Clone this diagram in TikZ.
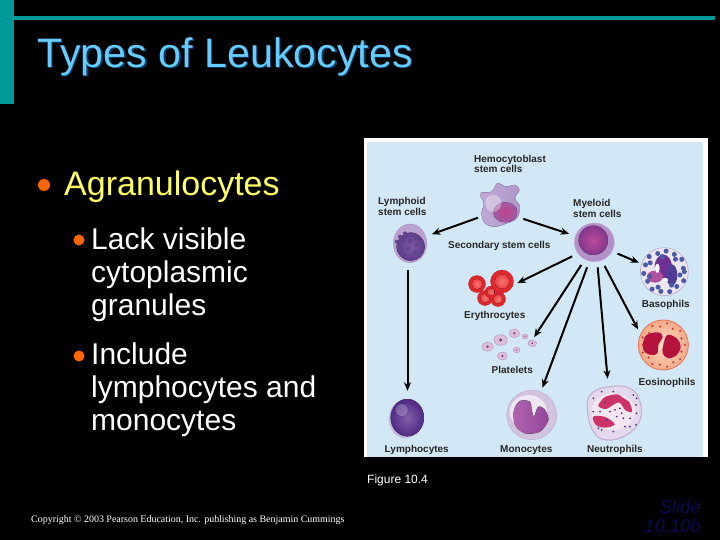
\documentclass[tikz,border=0pt]{standalone}
\usepackage{fontspec}
\setmainfont{Liberation Sans}
\newfontfamily\serifcopy{Liberation Serif}
\usetikzlibrary{arrows.meta,shapes.geometric}
\definecolor{teal1}{HTML}{009999}
\definecolor{titleblue}{HTML}{66CCFF}
\definecolor{titleshadow}{HTML}{0F3A5F}
\definecolor{bodyyellow}{HTML}{FFFF66}
\definecolor{bulorange}{HTML}{FF6600}
\definecolor{panelblue}{HTML}{D3E8F6}
\definecolor{slidenavy}{HTML}{0A0A50}
\tikzset{
  x=1pt,y=-1pt,
  arr/.style={line width=2pt,draw=black,-{Stealth[length=8.5pt,width=7pt]}},
  lab/.style={anchor=base west,inner sep=0,font=\fontsize{10}{10.5}\selectfont\bfseries,text=black!85},
  lab2/.style={anchor=north west,inner sep=0,align=left,font=\fontsize{10}{10.5}\selectfont\bfseries,text=black!85},
  bodytxt/.style={anchor=north west,inner sep=0,align=left,text=white,font=\fontsize{30}{33}\selectfont},
  bul/.style={circle,fill=bulorange,inner sep=0},
  anch/.style={circle,inner sep=0},
}
\begin{document}
\begin{tikzpicture}
\useasboundingbox (0,0) rectangle (720,540);
\fill[black] (0,0) rectangle (720,540);
% theme bars
\fill[teal1] (0,0) rectangle (14,104);
\fill[teal1] (14,16) rectangle (715,20);
% title
\node[anchor=base west,inner sep=0,text=titleshadow,font=\fontsize{41.2}{41.2}\selectfont] at (38.5,69) {Types of Leukocytes};
\node[anchor=base west,inner sep=0,text=titleblue,font=\fontsize{41.2}{41.2}\selectfont] (title) at (37,67.5) {Types of Leukocytes};
% body
\node[bul,minimum size=12pt] (b1) at (44,185) {};
\node[anchor=base west,inner sep=0,text=bodyyellow,font=\fontsize{34}{34}\selectfont] (agr) at (64,196) {Agranulocytes};
\node[bul,minimum size=11pt] (b2) at (79,240) {};
\node[bodytxt] (t1) at (91,227.5) {Lack visible\\cytoplasmic\\granules};
\node[bul,minimum size=11pt] (b3) at (79,356) {};
\node[bodytxt] (t2) at (91,342.5) {Include\\lymphocytes and\\monocytes};
% panel
\fill[white] (364,138) rectangle (708,457);
\fill[panelblue] (367,142) rectangle (703,457);
% ---- anchor nodes
\node[anch,minimum size=52pt] (hemo) at (501,205) {};
\node[ellipse,inner sep=0,minimum width=33pt,minimum height=38pt] (lymph) at (407.5,243) {};
\node[anch,minimum size=42pt] (myel) at (594,242) {};
\node[anch,minimum size=48pt] (baso) at (664,272) {};
\node[anch,minimum size=50pt] (eos) at (663,345) {};
\node[anch,minimum size=56pt] (neut) at (613,412) {};
\node[anch,minimum size=52pt] (mono) at (532,415) {};
\node[ellipse,inner sep=0,minimum width=34pt,minimum height=40pt] (lcyte) at (407.5,418) {};
\node[anch,minimum size=55pt] (eryth) at (490,288) {};
\node[rectangle,inner sep=0,minimum width=48pt,minimum height=40pt] (plat) at (510,345) {};
% ---- cells
\begin{scope}[shift={(360,135)},x=0.3333pt,y=-0.3333pt]
% hemocytoblast
\fill[left color={rgb,255:red,190;green,170;blue,212},right color={rgb,255:red,176;green,150;blue,200},draw={rgb,255:red,165;green,140;blue,190},line width=.3pt]
 plot[smooth cycle,tension=.55] coordinates {(360,175)(395,170)(412,145)(438,155)(465,150)(478,165)(465,190)(480,215)(470,250)(440,265)(405,275)(375,265)(365,235)(372,205)};
\fill[inner color={rgb,255:red,190;green,70;blue,140},outer color={rgb,255:red,160;green,90;blue,165}] (436,232) circle[x radius=36,y radius=30];
\fill[white,opacity=.35] (400,205) circle[x radius=24,y radius=26];
% lymphoid
\fill[fill={rgb,255:red,187;green,163;blue,207},draw={rgb,255:red,170;green,145;blue,195}] (150,325) circle[x radius=50,y radius=58];
\fill[inner color={rgb,255:red,125;green,90;blue,160},outer color={rgb,255:red,95;green,60;blue,140}] (152,335) circle[x radius=42,y radius=42];
\foreach \p in {(120,305),(135,295),(155,298),(172,310),(110,320),(130,318),(150,318),(170,330),(125,340),(145,340),(165,352),(135,360),(115,335),(182,325)}
  \fill[fill={rgb,255:red,95;green,70;blue,140}] \p circle[radius=6];
\end{scope}
\begin{scope}[shift={(530,135)},x=0.3333pt,y=-0.3333pt]
% myeloid
\fill[fill={rgb,255:red,178;green,145;blue,200},draw={rgb,255:red,200;green,175;blue,215},line width=.5pt] (193,322) circle[x radius=60,y radius=58];
\fill[inner color={rgb,255:red,190;green,75;blue,155},outer color={rgb,255:red,130;green,55;blue,140}] (190,316) circle[radius=44];
% basophil
\fill[fill={rgb,255:red,235;green,230;blue,242},draw={rgb,255:red,170;green,160;blue,205},line width=.5pt] (403,410) circle[radius=72];
\fill[fill={rgb,255:red,112;green,48;blue,145}] (400,395) circle[x radius=26,y radius=36];
\fill[fill={rgb,255:red,80;green,60;blue,150}] (425,420) circle[x radius=17,y radius=32];
\fill[fill={rgb,255:red,176;green,80;blue,160}] (375,425) circle[x radius=24,y radius=18];
\fill[white] (382,400) circle[x radius=7,y radius=14];
\fill[white] (405,435) circle[x radius=10,y radius=6];
\foreach \a/\r in {0/60,25/64,50/58,75/62,100/60,125/64,150/58,175/62,200/60,225/64,250/58,275/62,300/60,325/64,350/58,12/48,62/46,112/50,162/46,212/50,262/46,312/50}
  \fill[fill={rgb,255:red,76;green,90;blue,165}] (403,410)++(\a:\r) circle[radius=7.5];
\end{scope}
\begin{scope}[shift={(530,295)},x=0.3333pt,y=-0.3333pt]
% eosinophil
\fill[inner color={rgb,255:red,252;green,220;blue,200},outer color={rgb,255:red,245;green,170;blue,135},draw={rgb,255:red,235;green,120;blue,95},line width=.8pt] (400,150) circle[radius=75];
\fill[fill={rgb,255:red,180;green,18;blue,60}] plot[smooth cycle,tension=.6] coordinates {(338,150)(350,120)(385,112)(398,125)(385,150)(382,175)(365,180)(345,172)};
\fill[fill={rgb,255:red,180;green,18;blue,60}] plot[smooth cycle,tension=.6] coordinates {(412,120)(440,130)(452,155)(440,180)(415,190)(398,175)(400,150)};
\foreach \a/\r in {0/65,20/58,40/66,60/60,80/66,100/60,120/66,140/58,160/66,180/62,200/66,220/56,240/66,260/56,280/66,300/56,320/66,340/58}
  \fill[fill={rgb,255:red,195;green,55;blue,50}] (400,150)++(\a:\r) circle[radius=3.5];
% neutrophil
\fill[fill={rgb,255:red,228;green,216;blue,236},draw={rgb,255:red,195;green,180;blue,215},line width=1.2pt] plot[smooth cycle,tension=.7] coordinates {(172,340)(185,295)(240,275)(300,280)(330,320)(330,375)(290,420)(230,435)(190,410)};
\fill[fill={rgb,255:red,244;green,232;blue,240}] (250,350) circle[x radius=65,y radius=55];
\fill[fill={rgb,255:red,205;green,50;blue,105}] plot[smooth cycle,tension=.5] coordinates {(205,332)(225,306)(262,298)(278,308)(298,322)(306,350)(286,346)(266,322)(228,342)};
\fill[fill={rgb,255:red,205;green,50;blue,105}] plot[smooth cycle,tension=.6] coordinates {(190,365)(225,366)(254,388)(225,398)(198,390)};
\foreach \x/\y in {190/310,190/350,215/290,240/350,260/365,280/370,300/370,318/390,285/395,250/410,215/405,310/300,318/330,320/355,230/375,205/400,270/340,250/290,225/322,300/395,210/350,320/310,255/345,275/355}
  \fill[fill={rgb,255:red,80;green,48;blue,128}] (\x,\y) circle[radius=3];
\end{scope}
\begin{scope}[shift={(360,295)},x=0.3333pt,y=-0.3333pt]
% monocyte
\fill[fill={rgb,255:red,210;green,196;blue,222},draw={rgb,255:red,190;green,175;blue,210},line width=.5pt] (515,360) circle[x radius=75,y radius=74];
\fill[fill={rgb,255:red,238;green,230;blue,242}] (505,350) circle[x radius=56,y radius=50];
\fill[left color={rgb,255:red,175;green,100;blue,175},right color={rgb,255:red,145;green,70;blue,155}] plot[smooth cycle,tension=.5] coordinates {(462,345)(480,318)(510,320)(515,345)(522,365)(535,335)(555,345)(565,375)(540,410)(495,415)(465,390)};
% lymphocyte
\fill[fill={rgb,255:red,200;green,186;blue,218}] (136,372) circle[x radius=50,y radius=58];
\fill[inner color={rgb,255:red,130;green,95;blue,165},outer color={rgb,255:red,80;green,42;blue,133}] (142,368) circle[x radius=50,y radius=56];
\fill[white,opacity=.22] (125,345) circle[radius=18];
% platelets
\foreach \x/\y/\r in {383/155/17,422/135/20,463/115/16,495/125/9,517/145/13,470/165/10,427/183/15}{
  \fill[fill={rgb,255:red,224;green,190;blue,216},draw={rgb,255:red,160;green,130;blue,185},line width=.3pt] (\x,\y) circle[x radius=\r,y radius={\r*0.8}];
  \fill[fill={rgb,255:red,120;green,70;blue,130}] (\x,\y) circle[radius={\r*0.25}];
}
\end{scope}
% erythrocytes
\foreach \x/\y/\r in {485/298/7.5,498/299/7.5,491/292/6,477/284/8.5,502/281.5/11.5}{
  \fill[fill={rgb,255:red,222;green,40;blue,45},draw={rgb,255:red,190;green,25;blue,35},line width=.3pt] (\x,\y) circle[radius=\r];
  \fill[inner color={rgb,255:red,245;green,120;blue,120},outer color={rgb,255:red,235;green,65;blue,65}] (\x,\y) circle[radius={\r*0.62}];
}
% ---- labels
\node[lab2] (lh) at (474,155) {Hemocytoblast\\stem cells};
\node[lab2] (ll) at (378,197.5) {Lymphoid\\stem cells};
\node[lab2] (lm) at (573,199.5) {Myeloid\\stem cells};
\node[lab] (ls) at (448,248) {Secondary stem cells};
\node[lab] (le) at (464,318.3) {Erythrocytes};
\node[lab] (lp) at (491.5,373.3) {Platelets};
\node[lab] (la) at (384.5,452.7) {Lymphocytes};
\node[lab] (lo) at (500,452.7) {Monocytes};
\node[lab] (ln) at (587,452.5) {Neutrophils};
\node[lab] (lb) at (641.7,307.7) {Basophils};
\node[lab] (lq) at (638.5,385) {Eosinophils};
% ---- arrows
\draw[arr,shorten >=9pt] (hemo.209) -- (lymph.20);
\draw[arr,shorten >=5pt] (hemo.-32) -- (myel.162);
\draw[arr,shorten <=8pt,shorten >=7pt] (lymph.south) -- (lcyte.north);
\draw[arr,shorten <=5pt,shorten >=2.5pt] (myel.-27.5) -- (baso.160);
\draw[arr,shorten <=5pt,shorten >=5pt] (myel.-67) -- (eos.154);
\draw[arr,shorten <=4.5pt,shorten >=5.5pt] (myel.-81) -- (neut.100);
\draw[arr,shorten <=5pt,shorten >=3pt] (myel.256.5) -- (mono.69.7);
\draw[arr,shorten <=5pt] (myel.242.4) -- (plat.18);
\draw[arr,shorten <=5pt] (myel.215.5) -- (eryth.10.5);
% ---- footer
\node[anchor=base west,inner sep=0,text=white,font=\fontsize{12}{12}\selectfont] (fig) at (367,483) {Figure 10.4};
\node[anchor=base west,inner sep=0,text=white,font=\serifcopy\fontsize{9.95}{10}\selectfont] (copy) at (31,522) {Copyright © 2003 Pearson Education, Inc. publishing as Benjamin Cummings};
\node[anchor=base east,inner sep=0,text=slidenavy,font=\fontsize{18.5}{18.5}\itshape\selectfont] (s1) at (701,513) {Slide};
\node[anchor=base east,inner sep=0,text=slidenavy,font=\fontsize{18.5}{18.5}\itshape\selectfont] (s2) at (701,532) {10.10b};
\end{tikzpicture}
\end{document}
